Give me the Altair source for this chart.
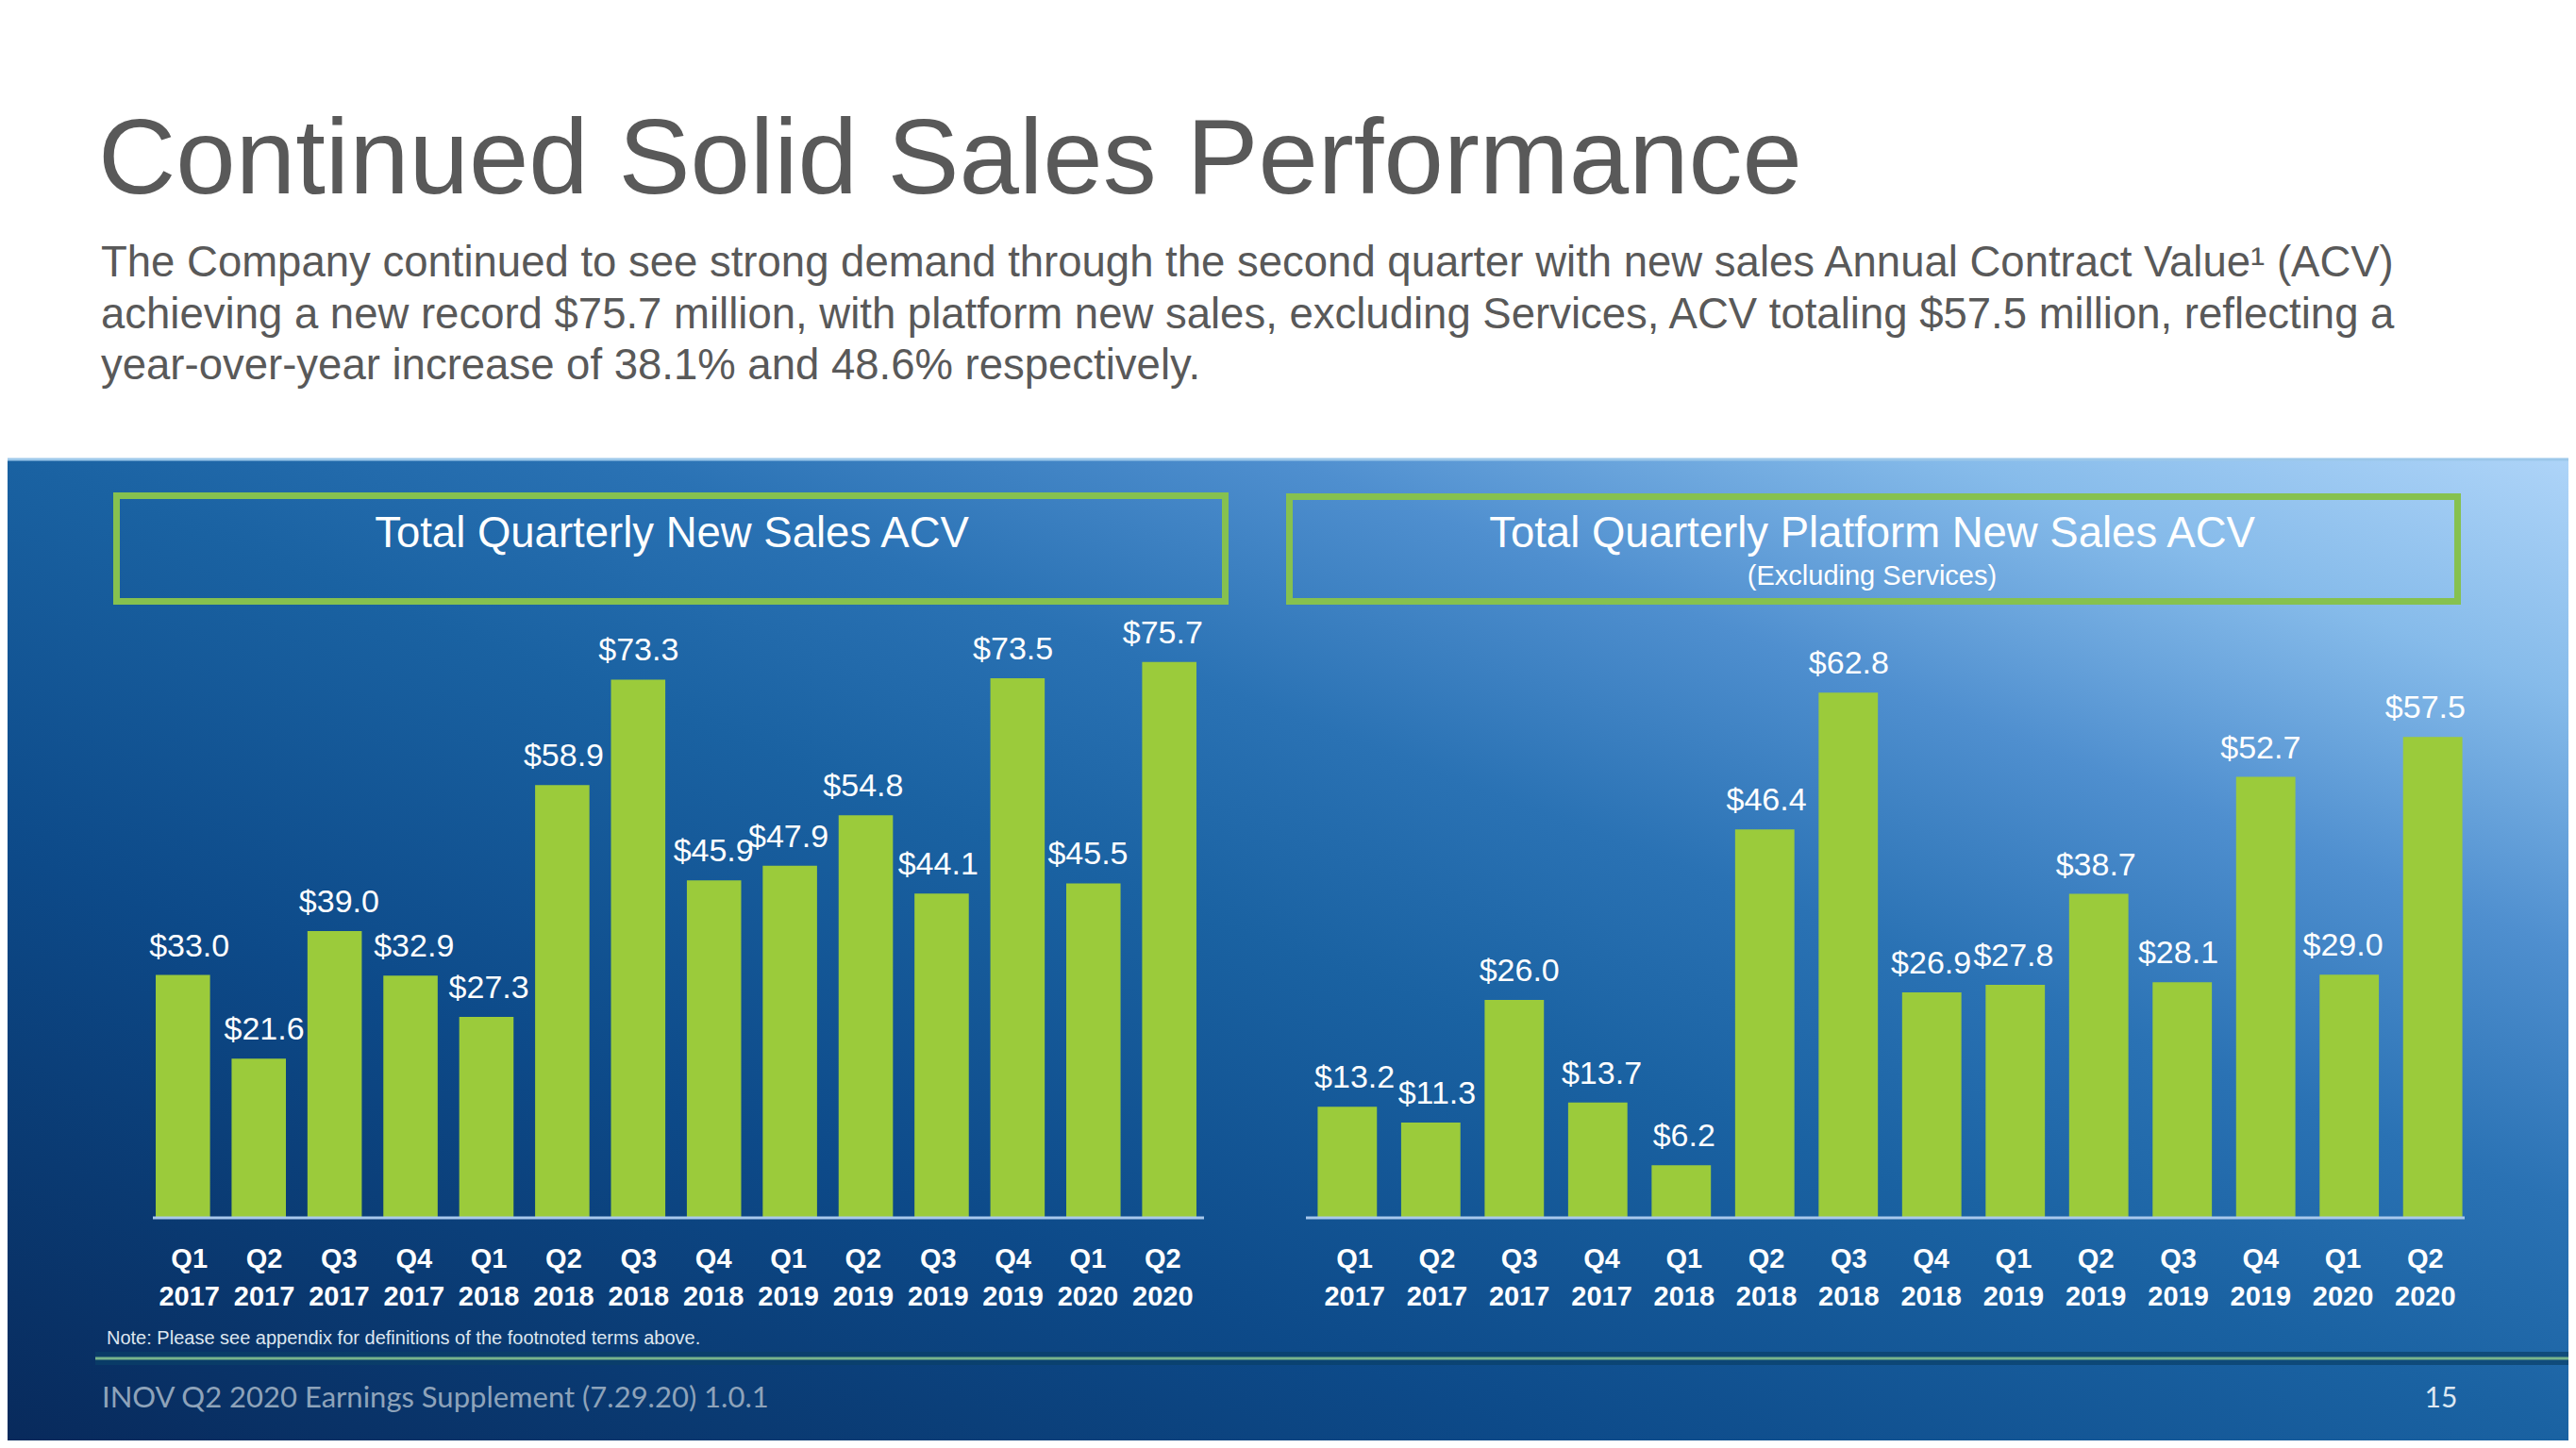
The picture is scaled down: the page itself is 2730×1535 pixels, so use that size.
import altair as alt
import pandas as pd

# ---------------- data ----------------
quarters = ["Q1", "Q2", "Q3", "Q4", "Q1", "Q2", "Q3", "Q4", "Q1", "Q2", "Q3", "Q4", "Q1", "Q2"]
years = ["2017", "2017", "2017", "2017", "2018", "2018", "2018", "2018",
         "2019", "2019", "2019", "2019", "2020", "2020"]
total_acv = [33.0, 21.6, 39.0, 32.9, 27.3, 58.9, 73.3, 45.9, 47.9, 54.8, 44.1, 73.5, 45.5, 75.7]
platform_acv = [13.2, 11.3, 26.0, 13.7, 6.2, 46.4, 62.8, 26.9, 27.8, 38.7, 28.1, 52.7, 29.0, 57.5]

title_text = "Continued Solid Sales Performance"
body_lines = [
    "The Company continued to see strong demand through the second quarter with new sales Annual Contract Value\u00b9 (ACV)",
    "achieving a new record $75.7 million, with platform new sales, excluding Services, ACV totaling $57.5 million, reflecting a",
    "year-over-year increase of 38.1% and 48.6% respectively.",
]
left_title = "Total Quarterly New Sales ACV"
right_title = "Total Quarterly Platform New Sales ACV"
right_subtitle = "(Excluding Services)"
note_text = "Note: Please see appendix for definitions of the footnoted terms above."
footer_text = "INOV Q2 2020 Earnings Supplement (7.29.20) 1.0.1"
page_number = "15"

# ---------------- style ----------------
W, H = 2714, 1519
ARIAL = "Liberation Sans, Arial, sans-serif"
GRAY = "#595959"
BAR_GREEN = "#9BCB3B"
BOX_GREEN = "#86C14F"
BASE_Y = 1282

one = pd.DataFrame({"_": [0]})


def text_at(txt, x, y, size, color, font=ARIAL, align="left", baseline="alphabetic", weight="normal"):
    return alt.Chart(one).mark_text(
        text=txt, fontSize=size, color=color, font=font, align=align,
        baseline=baseline, fontWeight=weight,
    ).encode(x=alt.value(x), y=alt.value(y))


def rect_at(x0, x1, y0, y1, **kw):
    return alt.Chart(one).mark_rect(**kw).encode(
        x=alt.value(x0), x2=alt.value(x1), y=alt.value(y0), y2=alt.value(y1))


def rule_at(x0, x1, y, color, width, opacity=1.0):
    return alt.Chart(one).mark_rule(color=color, strokeWidth=width, opacity=opacity).encode(
        x=alt.value(x0), x2=alt.value(x1), y=alt.value(y))


gradient = alt.LinearGradient(
    gradient="linear",
    x1=1, y1=0, x2=0, y2=1,
    stops=[
        alt.GradientStop(offset=0.0, color="#aed4f8"),
        alt.GradientStop(offset=0.12, color="#86bbea"),
        alt.GradientStop(offset=0.25, color="#4f8fcf"),
        alt.GradientStop(offset=0.38, color="#2a72b4"),
        alt.GradientStop(offset=0.5, color="#1a62a2"),
        alt.GradientStop(offset=0.7, color="#0d4a89"),
        alt.GradientStop(offset=0.85, color="#0a3a72"),
        alt.GradientStop(offset=1.0, color="#082a5c"),
    ],
)

background = rect_at(0, W, 479, H, fill=gradient)
top_line = rule_at(0, W, 479, "#9cc8ea", 3)


def panel(values, x_range, y_max, px_per_unit, pad_inner, line_x0, line_x1):
    df = pd.DataFrame({
        "key": [f"{q} {y}" for q, y in zip(quarters, years)],
        "q": quarters,
        "year": years,
        "value": values,
        "label": [f"${v:.1f}" for v in values],
    })
    xs = alt.X("key:N", sort=None, axis=None,
               scale=alt.Scale(range=x_range, paddingInner=pad_inner, paddingOuter=0.05))
    ys = alt.Y("value:Q", axis=None,
               scale=alt.Scale(domain=[0, y_max], range=[BASE_Y, BASE_Y - y_max * px_per_unit],
                               nice=False, zero=True))
    base = alt.Chart(df)
    bars = base.mark_bar(color=BAR_GREEN).encode(x=xs, y=ys)
    labels = base.mark_text(fontSize=34, color="white", font=ARIAL, baseline="alphabetic",
                            dy=-20).encode(x=xs, y=ys, text="label:N")
    qlab = base.mark_text(fontSize=29, color="white", font=ARIAL, fontWeight="bold",
                          baseline="middle").encode(x=xs, y=alt.value(1327), text="q:N")
    ylab = base.mark_text(fontSize=29, color="white", font=ARIAL, fontWeight="bold",
                          baseline="middle").encode(x=xs, y=alt.value(1367), text="year:N")
    axis_line = rule_at(line_x0, line_x1, BASE_Y + 1, "#a8c8ec", 3)
    return [bars, axis_line, labels, qlab, ylab]


left_panel = panel(total_acv, [153, 1264], 80, 7.77, 0.284, 154, 1268)
right_panel = panel(platform_acv, [1384, 2606], 70, 8.85, 0.29, 1376, 2604)

box_left = rect_at(115.5, 1290.5, 517.5, 629.5, fillOpacity=0, stroke=BOX_GREEN, strokeWidth=7)
box_right = rect_at(1358.5, 2596.5, 518.5, 629.5, fillOpacity=0, stroke=BOX_GREEN, strokeWidth=7)

layers = [
    background,
    top_line,
    text_at(title_text, 96, 197, 114, GRAY),
    text_at(body_lines[0], 99, 285, 45.5, GRAY),
    text_at(body_lines[1], 99, 340, 45.5, GRAY),
    text_at(body_lines[2], 99, 394, 45.5, GRAY),
    box_left,
    box_right,
    text_at(left_title, 704, 558, 45.5, "white", align="center", baseline="middle"),
    text_at(right_title, 1976, 558, 45.5, "white", align="center", baseline="middle"),
    text_at(right_subtitle, 1976, 603, 29, "white", align="center", baseline="middle"),
    *left_panel,
    *right_panel,
    text_at(note_text, 105, 1411, 20, "#dde6ef", baseline="middle"),
    rule_at(93, W, 1432, "#0a4068", 14, 0.7),
    rule_at(93, W, 1432, "#78b48c", 3),
    text_at(footer_text, 100, 1475, 31, "#8ea3ba", font="Lato", baseline="middle"),
    text_at(page_number, 2579, 1475, 30, "#dde8f2", font="Lato", align="center", baseline="middle"),
]

chart = alt.layer(*layers).resolve_scale(
    x="independent", y="independent"
).properties(
    width=W, height=H, padding=0, background="white",
    autosize=alt.AutoSizeParams(type="none"),
).configure_view(strokeWidth=0)

chart.save("out.html", embed_options={"renderer": "svg", "actions": False})
